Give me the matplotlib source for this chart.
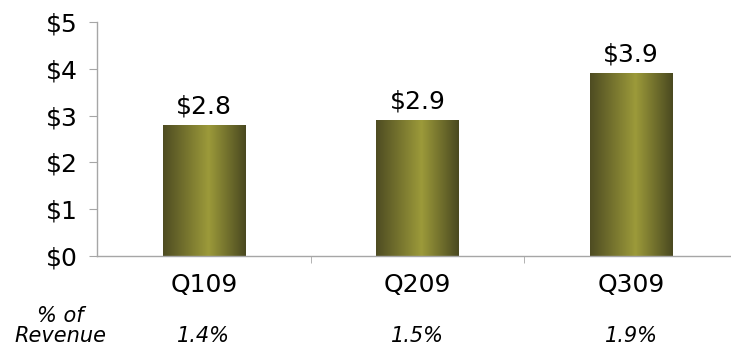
import numpy as np
import matplotlib.pyplot as plt
from matplotlib.colors import LinearSegmentedColormap

plt.rcParams['font.family'] = ['DejaVu Sans']

# data
quarters = ['Q109', 'Q209', 'Q309']
spend = [2.8, 2.9, 3.9]
pct_revenue = ['1.4%', '1.5%', '1.9%']
yticks = [0, 1, 2, 3, 4, 5]

axis_gray = '#a6a6a6'

fig = plt.figure(figsize=(7.31, 3.49), dpi=100)
ax = fig.add_axes([0.1327, 0.2665, 0.877, 0.6705])

x = np.arange(len(quarters))
bars = ax.bar(x, spend, width=0.385, color='none', edgecolor='none')

# olive gradient, dark at the edges and light near the middle
olive = LinearSegmentedColormap.from_list(
    'olive', [(0.0, '#4e4c22'), (0.55, '#9c9a3a'), (1.0, '#4a4920')])
grad = np.linspace(0, 1, 256).reshape(1, -1)
for b in bars:
    x0, y0 = b.get_x(), b.get_y()
    im = ax.imshow(grad, cmap=olive, aspect='auto',
                   extent=[x0, x0 + b.get_width(), y0, y0 + b.get_height()],
                   zorder=2)
    im.set_clip_path(b)
    ax.annotate('$%.1f' % b.get_height(), (x0 + b.get_width() / 2, b.get_height()),
                xytext=(0, 5), textcoords='offset points',
                ha='center', va='bottom', fontsize=18)

ax.set_xlim(-0.5, 2.5)
ax.set_ylim(0, 5)
ax.set_yticks(yticks)
ax.set_yticklabels(['$%d' % v for v in yticks], fontsize=18)
ax.set_xticks(x)
ax.set_xticklabels(quarters, fontsize=18)
ax.set_xticks([0.5, 1.5], minor=True)

for s in ['top', 'right']:
    ax.spines[s].set_visible(False)
for s in ['left', 'bottom']:
    ax.spines[s].set_color(axis_gray)
    ax.spines[s].set_linewidth(1.0)

ax.tick_params(axis='y', length=6, color=axis_gray, pad=8)
ax.tick_params(axis='x', which='major', length=0, pad=12)
ax.tick_params(axis='x', which='minor', length=5, color=axis_gray)

# % of revenue row under the quarters
for xi, p in zip(x, pct_revenue):
    ax.text(xi, -0.34, p, transform=ax.get_xaxis_transform(),
            ha='center', va='center', fontsize=15, style='italic')
fig.text(60 / 731, 1 - 326 / 349, '% of\nRevenue', ha='center', va='center',
         fontsize=15, style='italic', linespacing=1.0)

fig.savefig('out.png', dpi=100)
